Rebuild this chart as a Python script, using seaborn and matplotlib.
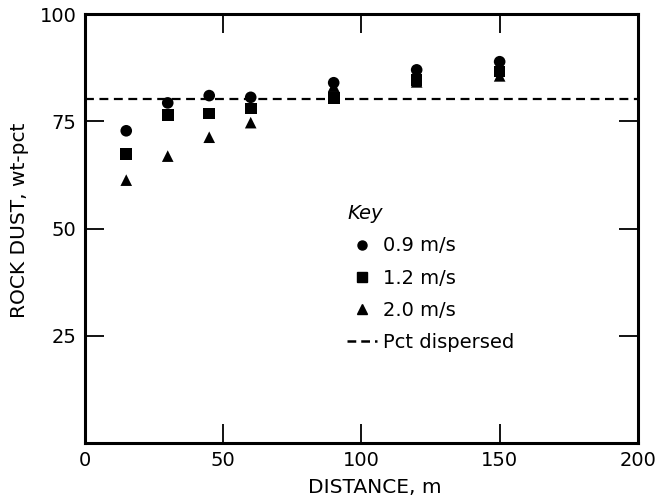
import numpy
import pandas as pd
import seaborn as sns
import matplotlib
matplotlib.use('Agg')
import matplotlib.pyplot as plt
from matplotlib.lines import Line2D

# distances (m) and rock dust wt-pct
distance = [15, 30, 45, 60, 90, 120, 150]
dust_09 = [72.8, 79.3, 81.0, 80.6, 84.0, 87.0, 88.9]
dust_12 = [67.4, 76.5, 76.8, 78.0, 80.4, 84.6, 86.6]
dust_20 = [61.3, 66.9, 71.3, 74.7, 83.2, 84.2, 85.6]
pct_dispersed = 80.2
speed_labels = ['0.9 m/s', '1.2 m/s', '2.0 m/s']

df = pd.DataFrame({
    'distance': distance * 3,
    'dust': dust_09 + dust_12 + dust_20,
    'speed': [s for s in speed_labels for _ in distance],
})

sns.set_style('ticks')
plt.rcParams['font.family'] = ['DejaVu Sans']
plt.rcParams['text.color'] = 'black'
plt.rcParams['axes.labelcolor'] = 'black'

fig = plt.figure(figsize=(6.57, 5.03), dpi=100)
ax = fig.add_axes([0.129, 0.119, 0.842, 0.853])

markers = {'0.9 m/s': 'o', '1.2 m/s': 's', '2.0 m/s': '^'}
sns.scatterplot(data=df, x='distance', y='dust', style='speed', markers=markers,
                color='black', edgecolor='black', s=70, linewidth=0, ax=ax, legend=False)
ax.axhline(pct_dispersed, color='black', linestyle=(0, (4, 2.5)), linewidth=1.6)

ax.set_xlim(0, 200)
ax.set_ylim(0, 100)
ax.set_xticks([0, 50, 100, 150, 200])
ax.set_yticks([25, 50, 75, 100])
ax.tick_params(direction='in', length=14, width=1.3, top=True, right=True,
               labelsize=14, pad=6, colors='black')
for sp in ax.spines.values():
    sp.set_linewidth(2.2)
    sp.set_color('black')
ax.set_xlabel('DISTANCE, m', fontsize=14.5, color='black')
ax.set_ylabel('ROCK DUST, wt-pct', fontsize=14.5, color='black')
ax.xaxis.set_label_coords(0.525, -0.082)
ax.yaxis.set_label_coords(-0.1, 0.52)

# legend ("Key")
handles = [Line2D([], [], marker=markers[s], color='black', linestyle='none', markersize=6.5)
           for s in speed_labels]
handles.append(Line2D([], [], color='black', linestyle=(0, (3.5, 2)), linewidth=1.8))
leg = ax.legend(handles, speed_labels + ['Pct dispersed'], title='Key', frameon=False,
                loc='upper left', bbox_to_anchor=(0.46, 0.575), fontsize=14,
                handlelength=1.55, handletextpad=0.3, labelspacing=0.68,
                borderaxespad=0, labelcolor='black')
leg.get_title().set_fontstyle('italic')
leg.get_title().set_fontsize(14)
leg.get_title().set_color('black')
leg._legend_box.align = 'left'

fig.savefig('out.png', dpi=100)
